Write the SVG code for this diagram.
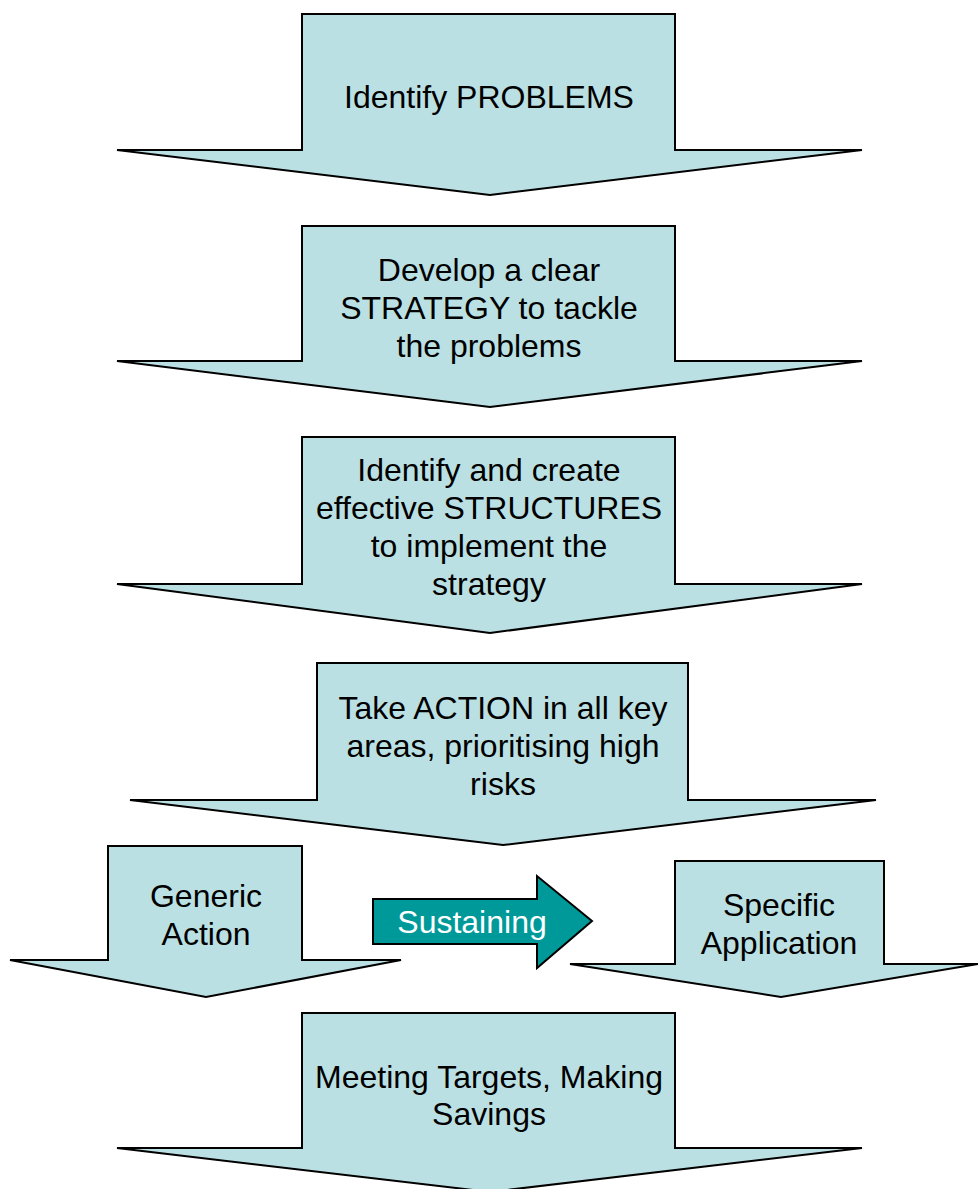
<svg xmlns="http://www.w3.org/2000/svg" width="978" height="1189" viewBox="0 0 978 1189">
<style>
.blk{fill:#BBE0E3;stroke:#000;stroke-width:2;stroke-linejoin:miter}
.sus{fill:#009999;stroke:#000;stroke-width:2}
.t{font-family:"Liberation Sans",Arial,sans-serif;font-size:32px;fill:#000;text-anchor:middle}
.tw{font-family:"Liberation Sans",Arial,sans-serif;font-size:32px;fill:#fff;text-anchor:middle}
</style>
<rect width="978" height="1189" fill="#fff"/>
<g id="problems">
<polygon class="blk" points="302,14 675,14 675,150 862,150 490,195 117,150 302,150"/>
<text class="t" x="489" y="108">Identify PROBLEMS</text>
</g>
<g id="strategy">
<polygon class="blk" points="302,226 675,226 675,361 862,361 490,407 117,361 302,361"/>
<text class="t" x="489" y="281">Develop a clear</text>
<text class="t" x="489" y="319">STRATEGY to tackle</text>
<text class="t" x="489" y="357">the problems</text>
</g>
<g id="structures">
<polygon class="blk" points="302,437 675,437 675,584 862,584 490,633 117,584 302,584"/>
<text class="t" x="489" y="481">Identify and create</text>
<text class="t" x="489" y="519">effective STRUCTURES</text>
<text class="t" x="489" y="557">to implement the</text>
<text class="t" x="489" y="595">strategy</text>
</g>
<g id="action">
<polygon class="blk" points="317,663 688,663 688,800 876,800 503,845 130,800 317,800"/>
<text class="t" x="503" y="719">Take ACTION in all key</text>
<text class="t" x="503" y="757">areas, prioritising high</text>
<text class="t" x="503" y="795">risks</text>
</g>
<g id="generic">
<polygon class="blk" points="108,846 302,846 302,960 401,960 206,997 10,960 108,960"/>
<text class="t" x="206" y="907">Generic</text>
<text class="t" x="206" y="945">Action</text>
</g>
<g id="specific">
<polygon class="blk" points="675,861 884,861 884,964 978,964 781,997 570,964 675,964"/>
<text class="t" x="779" y="916">Specific</text>
<text class="t" x="779" y="954">Application</text>
</g>
<g id="connectors">
<g id="sustaining">
<polygon class="sus" points="373,899 537,899 537,876 592,921 537,968 537,944 373,944"/>
<text class="tw" x="472" y="933">Sustaining</text>
</g>
</g>
<g id="meeting">
<polygon class="blk" points="302,1013 675,1013 675,1148 862,1148 490,1192 117,1148 302,1148"/>
<text class="t" x="489" y="1088">Meeting Targets, Making</text>
<text class="t" x="489" y="1125">Savings</text>
</g>
</svg>
